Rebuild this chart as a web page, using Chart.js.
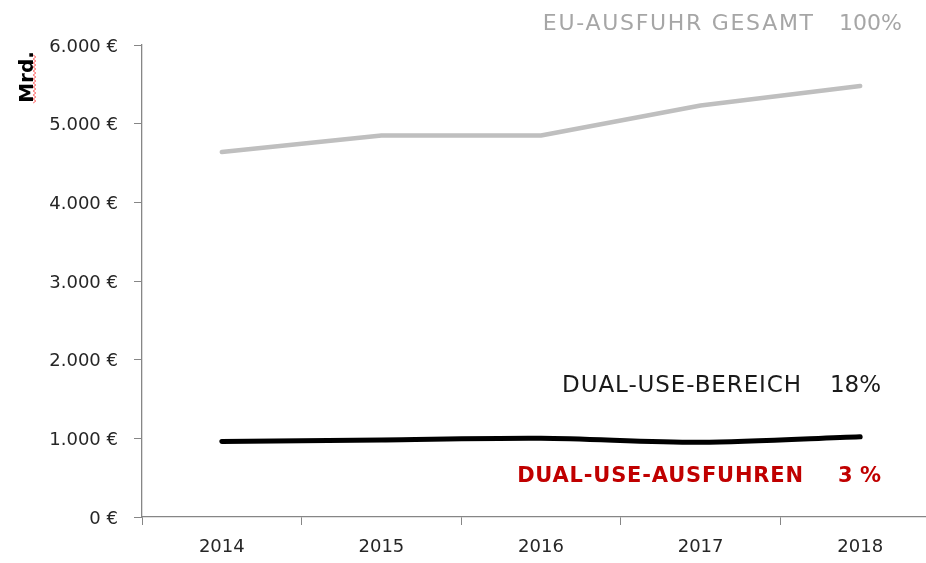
<!DOCTYPE html>
<html>
<head>
<meta charset="utf-8">
<script src="https://cdn.jsdelivr.net/npm/chart.js@4/dist/chart.umd.min.js"></script>
<style>
  html, body { margin: 0; padding: 0; background: #fff; width: 926px; height: 563px; overflow: hidden; }
  #wrap { width: 950px; height: 563px; }
</style>
</head>
<body>
<div id="wrap"><canvas id="c" width="950" height="563"></canvas></div>
<script>
// ---- data ----
const years = ['2014', '2015', '2016', '2017', '2018'];
const euExportTotal = [4640, 4850, 4850, 5230, 5480];   // Mrd. €
const dualUseArea   = [960, 980, 1000, 950, 1020];      // Mrd. €
const yTicks = [0, 1000, 2000, 3000, 4000, 5000, 6000];
const annotationLabels = ['EU-AUSFUHR GESAMT', 'DUAL-USE-BEREICH', 'DUAL-USE-AUSFUHREN'];
const annotationShares = ['100%', '18%', '3 %'];
const yAxisTitle = 'Mrd.';

const FONT = '"DejaVu Sans", "Open Sans", sans-serif';

function fmtEuro(v) {
  return String(v).replace(/\B(?=(\d{3})+(?!\d))/g, '.') + ' €';
}

const annotationPlugin = {
  id: 'annotations',
  afterDraw(chart) {
    const ctx = chart.ctx;
    ctx.save();
    // Y-axis title "Mrd." rotated
    ctx.translate(33, 77);
    ctx.rotate(-Math.PI / 2);
    ctx.font = 'bold 20px ' + FONT;
    ctx.fillStyle = '#000';
    ctx.textAlign = 'center';
    ctx.textBaseline = 'alphabetic';
    ctx.fillText(yAxisTitle, 0, 0);
    ctx.restore();

    // spell-check squiggle next to the title
    ctx.save();
    ctx.strokeStyle = '#ff5b5b';
    ctx.lineWidth = 1;
    ctx.beginPath();
    let x0 = 34.5;
    for (let y = 55, i = 0; y <= 104; y += 2, i++) {
      const x = x0 + (i % 2 === 0 ? -1.3 : 1.3);
      if (i === 0) ctx.moveTo(x, y); else ctx.lineTo(x, y);
    }
    ctx.stroke();
    ctx.restore();

    // series annotations
    const specs = [
      { color: '#a6a6a6', weight: 'normal', size: 22, spacing: 1.7, labelRight: 813, shareRight: 902, baseline: 30 },
      { color: '#1a1a1a', weight: 'normal', size: 23, spacing: 0.9, labelRight: 801, shareRight: 881, baseline: 392 },
      { color: '#c00000', weight: 'bold',   size: 21, spacing: 0.8, labelRight: 803, shareRight: 881, baseline: 482 }
    ];
    specs.forEach((s, i) => {
      ctx.save();
      ctx.font = s.weight + ' ' + s.size + 'px ' + FONT;
      ctx.fillStyle = s.color;
      ctx.textAlign = 'right';
      ctx.textBaseline = 'alphabetic';
      ctx.letterSpacing = s.spacing + 'px';
      ctx.fillText(annotationLabels[i], s.labelRight + s.spacing, s.baseline);
      ctx.letterSpacing = '0px';
      ctx.fillText(annotationShares[i], s.shareRight, s.baseline);
      ctx.restore();
    });
  }
};

new Chart(document.getElementById('c'), {
  type: 'line',
  data: {
    labels: years,
    datasets: [
      {
        label: 'EU-Ausfuhr gesamt',
        data: euExportTotal,
        borderColor: '#bfbfbf',
        borderWidth: 4.5,
        borderCapStyle: 'round',
        borderJoinStyle: 'round',
        pointRadius: 0,
        tension: 0,
        fill: false
      },
      {
        label: 'Dual-Use-Bereich',
        data: dualUseArea,
        borderColor: '#000000',
        borderWidth: 5,
        borderCapStyle: 'round',
        borderJoinStyle: 'round',
        pointRadius: 0,
        tension: 0.3,
        fill: false
      }
    ]
  },
  options: {
    responsive: false,
    animation: false,
    devicePixelRatio: 1,
    layout: { padding: { top: 45, right: 10, bottom: 0, left: 0 } },
    plugins: {
      legend: { display: false },
      tooltip: { enabled: false },
      title: { display: false }
    },
    scales: {
      x: {
        type: 'category',
        offset: true,
        grid: { offset: true, drawOnChartArea: false, tickLength: 8, color: '#868686', lineWidth: 1 },
        border: { color: '#868686', width: 1.3 },
        ticks: { font: { family: FONT, size: 18 }, color: '#262626', padding: 12, maxRotation: 0 },
        afterFit(s) { s.height = 46; }
      },
      y: {
        min: 0,
        max: 6000,
        afterBuildTicks(s) { s.ticks = yTicks.map(v => ({ value: v })); },
        grid: { drawOnChartArea: false, tickLength: 8, color: '#868686', lineWidth: 1 },
        border: { color: '#868686', width: 1.3 },
        ticks: {
          font: { family: FONT, size: 18 },
          color: '#262626',
          padding: 16,
          labelOffset: 2,
          callback: v => fmtEuro(v)
        },
        afterFit(s) { s.width = 142; }
      }
    }
  },
  plugins: [annotationPlugin]
});
</script>
</body>
</html>
